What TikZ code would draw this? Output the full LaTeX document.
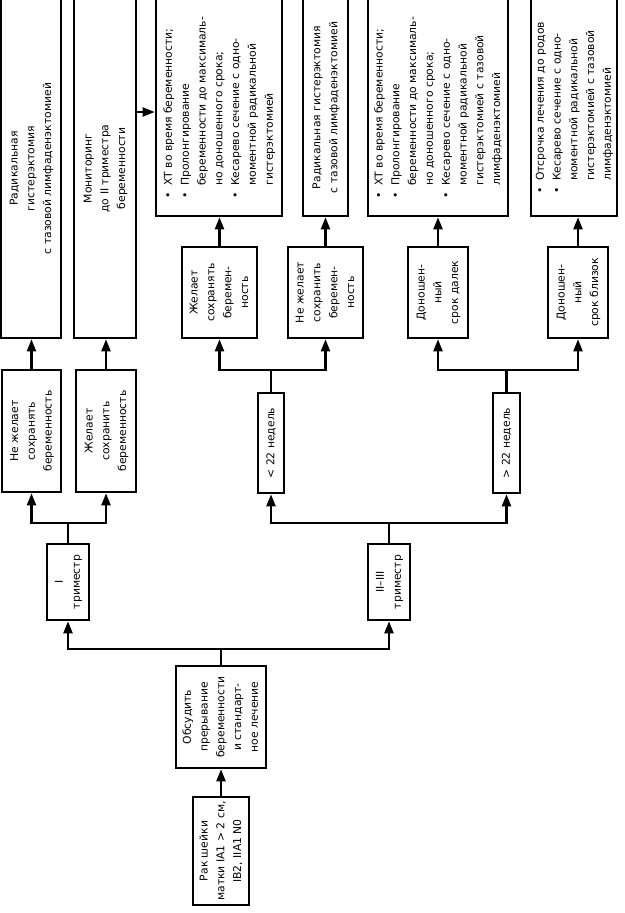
\documentclass[tikz,border=0pt]{standalone}
\usepackage{fontspec}
\setmainfont{DejaVu Sans}
\usetikzlibrary{arrows.meta}
\newcommand{\vtc}[1]{\rotatebox{90}{\begin{tabular}{@{}c@{}}#1\end{tabular}}}
\newcommand{\vtl}[1]{\rotatebox{90}{\begin{tabular}{@{}l@{\hspace{6pt}}l@{}}#1\end{tabular}}}
\begin{document}
\begin{tikzpicture}[x=1pt,y=-1pt,
  box/.style={draw, line width=2.6pt, inner sep=0pt, font=\fontsize{10.8}{16.8}\selectfont},
  conn/.style={line width=2.2pt},
  arr/.style={line width=2.2pt, -{Triangle[length=12pt,width=9pt]}}]
\useasboundingbox (0,0) rectangle (624,913);

% top row
\node[box, minimum width=60pt, minimum height=339pt] (r1) at (31,168.5)
  {\vtc{Радикальная\\гистерэктомия\\с тазовой лимфаденэктомией}};
\node[box, minimum width=62pt, minimum height=339pt] (r2) at (105,168.5)
  {\vtc{Мониторинг\\до II триместра\\беременности}};
\node[box, minimum width=126pt, minimum height=217pt] (r3) at (219,107.5)
  {\vtl{•&ХТ во время беременности;\\
        •&Пролонгирование\\
         &беременности до максималь-\\
         &но доношенного срока;\\
        •&Кесарево сечение с одно-\\
         &моментной радикальной\\
         &гистерэктомией}};
\node[box, minimum width=45pt, minimum height=217pt] (r4) at (325.5,107.5)
  {\vtc{Радикальная гистерэктомия\\с тазовой лимфаденэктомией}};
\node[box, minimum width=140pt, minimum height=217pt] (r5) at (438,107.5)
  {\vtl{•&ХТ во время беременности;\\
        •&Пролонгирование\\
         &беременности до максималь-\\
         &но доношенного срока;\\
        •&Кесарево сечение с одно-\\
         &моментной радикальной\\
         &гистерэктомией с тазовой\\
         &лимфаденэктомией}};
\node[box, minimum width=86pt, minimum height=217pt] (r6) at (574,107.5)
  {\vtl{•&Отсрочка лечения до родов\\
        •&Кесарево сечение с одно-\\
         &моментной радикальной\\
         &гистерэктомией с тазовой\\
         &лимфаденэктомией}};

% middle row
\node[box, minimum width=75pt, minimum height=91pt] (m3) at (219.5,292.5)
  {\vtc{Желает\\сохранять\\беремен-\\ность}};
\node[box, minimum width=75pt, minimum height=91pt] (m4) at (325.5,292.5)
  {\vtc{Не желает\\сохранить\\беремен-\\ность}};
\node[box, minimum width=60pt, minimum height=91pt] (m5) at (438,292.5)
  {\vtc{Доношен-\\ный\\срок далек}};
\node[box, minimum width=60pt, minimum height=91pt] (m6) at (578,292.5)
  {\vtc{Доношен-\\ный\\срок близок}};

% second row
\node[box, minimum width=59pt, minimum height=122pt] (l1) at (31.5,431)
  {\vtc{Не желает\\сохранять\\беременность}};
\node[box, minimum width=60pt, minimum height=122pt] (l2) at (106,431)
  {\vtc{Желает\\сохранить\\беременность}};
\node[box, minimum width=26pt, minimum height=100pt] (w1) at (271,443)
  {\vtc{< 22 недель}};
\node[box, minimum width=27pt, minimum height=100pt] (w2) at (506.5,443)
  {\vtc{> 22 недель}};

% trimester
\node[box, minimum width=42pt, minimum height=76pt] (t1) at (68,582)
  {\vtc{I\\триместр}};
\node[box, minimum width=42pt, minimum height=76pt] (t2) at (389,582)
  {\vtc{II–III\\триместр}};

% bottom
\node[box, minimum width=90pt, minimum height=102pt] (d) at (221,717)
  {\vtc{Обсудить\\прерывание\\беременности\\и стандарт-\\ное лечение}};
\node[box, minimum width=56pt, minimum height=108pt] (s) at (221,851)
  {\vtc{Рак шейки\\матки IA1 > 2 см,\\IB2, IIA1 N0}};

% junctions
\coordinate (jD) at (221,649);
\coordinate (jT1) at (68,523);
\coordinate (jT2) at (389,523);
\coordinate (jW1) at (271,370);
\coordinate (jW2) at (506.5,370);
\coordinate (y112) at (0,112);

% connectors
\draw[arr] (s.north) -- (d.south);
\draw[conn] (d.north) -- (jD);
\draw[arr] (jD) -| (t1.south);
\draw[arr] (jD) -| (t2.south);
\draw[conn] (t1.north) -- (jT1);
\draw[arr] (jT1) -| (l1.south);
\draw[arr] (jT1) -| (l2.south);
\draw[conn] (t2.north) -- (jT2);
\draw[arr] (jT2) -| (w1.south);
\draw[arr] (jT2) -| (w2.south);
\draw[conn] (w1.north) -- (jW1);
\draw[arr] (jW1) -| (m3.south);
\draw[arr] (jW1) -| (m4.south);
\draw[conn] (w2.north) -- (jW2);
\draw[arr] (jW2) -| (m5.south);
\draw[arr] (jW2) -| (m6.south);
\draw[arr] (l1.north) -- (l1.north |- r1.south);
\draw[arr] (l2.north) -- (l2.north |- r2.south);
\draw[arr] (m3.north) -- (m3.north |- r3.south);
\draw[arr] (m4.north) -- (m4.north |- r4.south);
\draw[arr] (m5.north) -- (m5.north |- r5.south);
\draw[arr] (m6.north) -- (m6.north |- r6.south);
\draw[arr] (r2.east |- y112) -- (r3.west |- y112);
\end{tikzpicture}
\end{document}
